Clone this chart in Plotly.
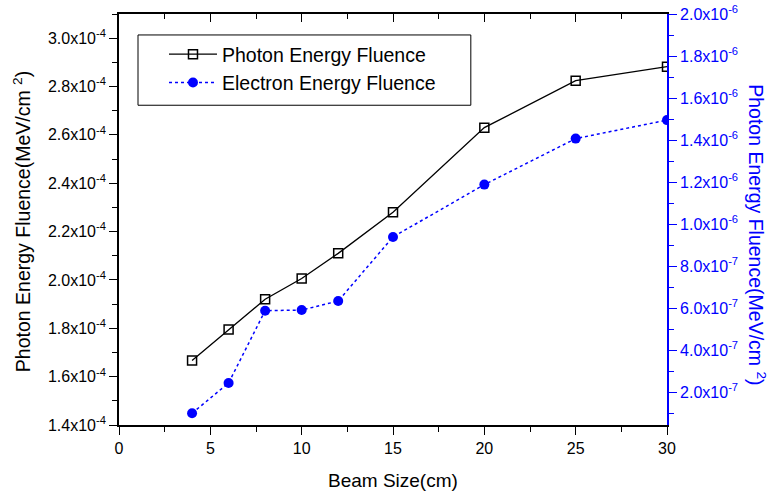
import plotly.graph_objects as go

beam_size = [4, 6, 8, 10, 12, 15, 20, 25, 30]
photon_fluence = [1.667e-4, 1.795e-4, 1.920e-4, 2.006e-4, 2.110e-4, 2.280e-4, 2.630e-4, 2.824e-4, 2.882e-4]
electron_fluence = [1.00e-7, 2.44e-7, 5.88e-7, 5.91e-7, 6.34e-7, 9.39e-7, 1.188e-6, 1.407e-6, 1.495e-6]

left_tickvals = [1.4e-4, 1.6e-4, 1.8e-4, 2.0e-4, 2.2e-4, 2.4e-4, 2.6e-4, 2.8e-4, 3.0e-4]
left_ticktext = ["1.4x10<sup>-4</sup>", "1.6x10<sup>-4</sup>", "1.8x10<sup>-4</sup>", "2.0x10<sup>-4</sup>",
                 "2.2x10<sup>-4</sup>", "2.4x10<sup>-4</sup>", "2.6x10<sup>-4</sup>", "2.8x10<sup>-4</sup>",
                 "3.0x10<sup>-4</sup>"]
right_tickvals = [2e-7, 4e-7, 6e-7, 8e-7, 1.0e-6, 1.2e-6, 1.4e-6, 1.6e-6, 1.8e-6, 2.0e-6]
right_ticktext = ["2.0x10<sup>-7</sup>", "4.0x10<sup>-7</sup>", "6.0x10<sup>-7</sup>", "8.0x10<sup>-7</sup>",
                  "1.0x10<sup>-6</sup>", "1.2x10<sup>-6</sup>", "1.4x10<sup>-6</sup>", "1.6x10<sup>-6</sup>",
                  "1.8x10<sup>-6</sup>", "2.0x10<sup>-6</sup>"]

FONT = "Arial, Liberation Sans, sans-serif"
BLUE = "#0000FF"

fig = go.Figure()
fig.add_trace(go.Scatter(
    x=beam_size, y=photon_fluence, name="Photon Energy Fluence",
    mode="lines+markers",
    line=dict(color="black", width=1.3),
    marker=dict(symbol="square-open", size=9, color="black", line=dict(width=1.5, color="black")),
    yaxis="y"))
fig.add_trace(go.Scatter(
    x=beam_size, y=electron_fluence, name="Electron Energy Fluence",
    mode="lines+markers",
    line=dict(color=BLUE, width=1.5, dash="dot"),
    marker=dict(symbol="circle", size=10, color=BLUE),
    yaxis="y2"))
# invisible trace so that the top (mirror) axis is drawn
fig.add_trace(go.Scatter(
    x=beam_size, y=photon_fluence, xaxis="x2", yaxis="y", mode="lines",
    line=dict(width=0, color="rgba(0,0,0,0)"), showlegend=False, hoverinfo="skip"))

fig.update_layout(
    width=775, height=496,
    margin=dict(l=119, r=108, t=14, b=71),
    paper_bgcolor="white", plot_bgcolor="white",
    font=dict(family=FONT, size=16, color="black"),
    xaxis=dict(range=[0, 30], tickvals=[0, 5, 10, 15, 20, 25, 30], showgrid=False, zeroline=False,
               showline=True, linecolor="black", linewidth=1.5, automargin=False,
               ticks="outside", ticklen=8, tickwidth=1.3, tickcolor="black",
               minor=dict(tickmode="linear", tick0=0, dtick=2.5, ticks="outside", ticklen=5,
                          tickwidth=1.3, tickcolor="black"),
               tickfont=dict(size=16)),
    xaxis2=dict(range=[0, 30], overlaying="x", side="top", anchor="y", showgrid=False, zeroline=False,
                showline=True, linecolor="black", linewidth=1.5, showticklabels=False, automargin=False,
                tickvals=[0, 5, 10, 15, 20, 25, 30],
                ticks="inside", ticklen=8, tickwidth=1.3, tickcolor="black",
                minor=dict(tickmode="linear", tick0=0, dtick=2.5, ticks="inside", ticklen=5,
                           tickwidth=1.3, tickcolor="black")),
    yaxis=dict(range=[1.4e-4, 3.1e-4], tickmode="array", tickvals=left_tickvals, ticktext=left_ticktext,
               showgrid=False, zeroline=False, showline=True, linecolor="black", linewidth=1.8,
               automargin=False,
               ticks="outside", ticklen=8, tickwidth=1.3, tickcolor="black",
               minor=dict(tickmode="linear", tick0=1.4e-4, dtick=1e-5, ticks="outside", ticklen=5,
                          tickwidth=1.3, tickcolor="black"),
               tickfont=dict(size=16, color="black")),
    yaxis2=dict(range=[0.44e-7, 2.0e-6], overlaying="y", side="right", anchor="x",
                tickmode="array", tickvals=right_tickvals, ticktext=right_ticktext,
                showgrid=False, zeroline=False, showline=True, linecolor=BLUE, linewidth=1.8,
                automargin=False,
                ticks="outside", ticklen=8, tickwidth=1.3, tickcolor=BLUE,
                minor=dict(tickmode="linear", tick0=1e-7, dtick=1e-7, ticks="outside", ticklen=5,
                           tickwidth=1.3, tickcolor=BLUE),
                tickfont=dict(size=16, color=BLUE)),
    legend=dict(x=0.0821, y=0.949, xanchor="left", yanchor="top",
                borderwidth=0, bgcolor="rgba(0,0,0,0)",
                font=dict(size=19.5, family=FONT, color="black"), itemwidth=48,
                tracegroupgap=0),
    showlegend=True,
    shapes=[
        dict(type="rect", xref="paper", yref="paper", x0=0.0347, x1=0.642, y0=0.778, y1=0.949,
             line=dict(color="black", width=1), fillcolor="white", layer="above"),
    ],
    annotations=[
        dict(text="Photon Energy Fluence(MeV/cm <sup>2</sup>)", xref="paper", yref="paper",
             x=-0.177, y=0.4936, xanchor="center", yanchor="middle", textangle=-90,
             showarrow=False, font=dict(size=19.5, color="black", family=FONT)),
        dict(text="Photon Energy Fluence(MeV/cm <sup>2</sup>)", xref="paper", yref="paper",
             x=1.164, y=0.462, xanchor="center", yanchor="middle", textangle=90,
             showarrow=False, font=dict(size=19.5, color=BLUE, family=FONT)),
        dict(text="Beam Size(cm)", xref="paper", yref="paper",
             x=0.5, y=-0.1347, xanchor="center", yanchor="middle",
             showarrow=False, font=dict(size=19, color="black", family=FONT)),
    ],
)

fig.write_html("out.html", config={"displayModeBar": False},
               post_script="document.body.style.margin='0';document.body.style.overflow='hidden';")
